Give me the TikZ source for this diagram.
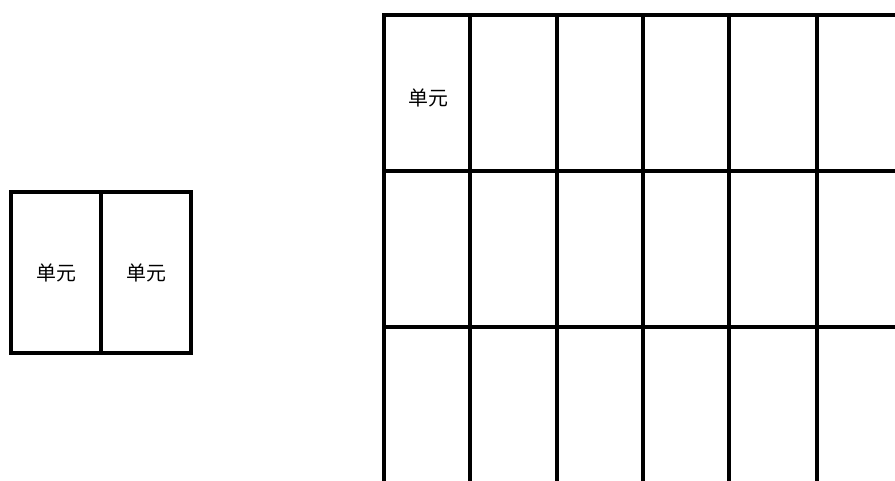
\documentclass[tikz,border=0pt]{standalone}
\usepackage{fontspec}
\newfontfamily\cjk{Noto Sans CJK SC}
\tikzset{
  cellule/.style={draw, line width=2.8pt, minimum width=2.7cm, minimum height=4.83cm, inner sep=0pt, font=\cjk\fontsize{17}{20}\selectfont},
  trait/.style={line width=3pt}
}

\begin{document}
\begin{tikzpicture}[x=0.03cm, y=-0.03cm]
				\useasboundingbox (0,0) rectangle (895,481);
				\clip (0,0) rectangle (895,481);
				% petit bloc a gauche
				\node[cellule] (gauche) at (56,272.5) {单元};
				\node[cellule] (droite) at (146,272.5) {单元};
				% grille a droite
				\foreach \x in {384,470,557,643,729,817}
					\draw[trait] (\x,13.5) -- (\x,500);
				\foreach \y in {15,171,327}
					\draw[trait] (382.5,\y) -- (900,\y);
				\node[font=\cjk\fontsize{17}{20}\selectfont] (case) at (428,98) {单元};
		\end{tikzpicture}
\end{document}
